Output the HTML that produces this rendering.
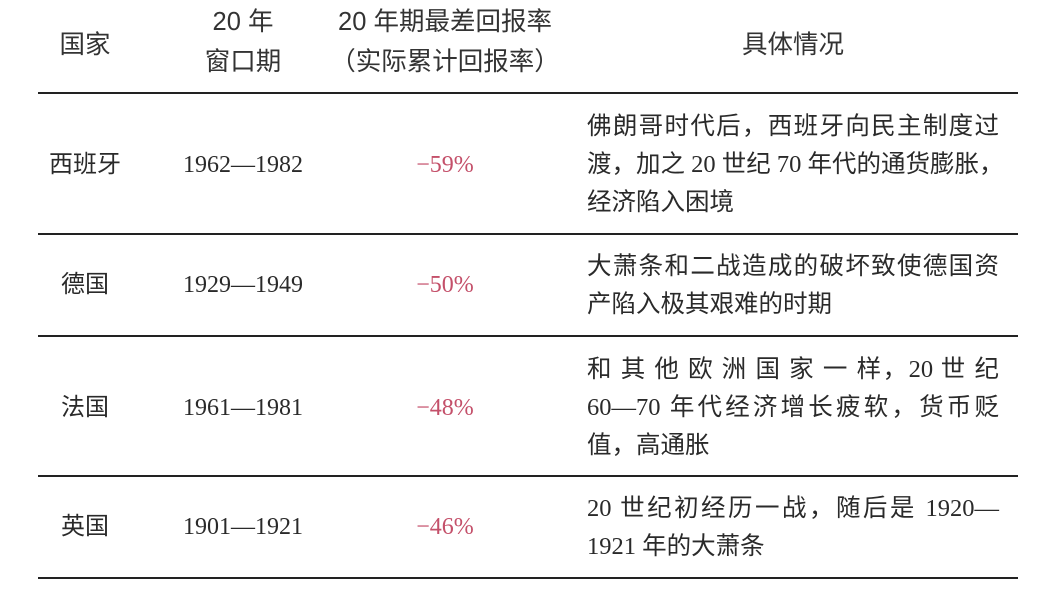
<!DOCTYPE html>
<html><head><meta charset="utf-8"><style>
html,body{margin:0;padding:0;background:#fff;}
#t{position:relative;width:1043px;height:591px;overflow:hidden;color:#2a2a2a;}
.h{position:absolute;font-family:"Liberation Sans","Noto Sans CJK SC",sans-serif;font-size:25.5px;text-align:center;line-height:40px;color:#333;white-space:nowrap;}
.c{position:absolute;font-family:"Liberation Serif","Noto Sans CJK SC",sans-serif;font-size:24px;line-height:38px;white-space:nowrap;}
.ctr{text-align:center;}
.red{color:#c4506a;}
.rule{position:absolute;left:38px;width:980px;height:2px;background:#222;}
.d{position:absolute;left:587px;width:412px;font-family:"Liberation Serif","Noto Sans CJK SC",sans-serif;font-size:24.5px;line-height:38px;white-space:nowrap;}
.j{text-align:justify;text-align-last:justify;}
</style></head><body>
<div id="t">
<div class="h" style="left:35px;width:100px;top:25px">国家</div>
<div class="h" style="left:170px;width:146px;top:2px">20 年<br>窗口期</div>
<div class="h" style="left:305px;width:280px;top:2px">20 年期最差回报率<br>（实际累计回报率）</div>
<div class="h" style="left:700px;width:186px;top:25px">具体情况</div>

<div class="rule" style="top:92px"></div>
<div class="rule" style="top:233px"></div>
<div class="rule" style="top:335px"></div>
<div class="rule" style="top:475px"></div>
<div class="rule" style="top:577px"></div>

<div class="c ctr" style="left:35px;width:100px;top:146px">西班牙</div>
<div class="c ctr" style="left:163px;width:160px;top:146px">1962—1982</div>
<div class="c ctr red" style="left:385px;width:120px;top:146px">−59%</div>
<div class="d" style="top:108px"><div class="j">佛朗哥时代后，西班牙向民主制度过</div><div class="j">渡，加之 20 世纪 70 年代的通货膨胀，</div><div>经济陷入困境</div></div>

<div class="c ctr" style="left:35px;width:100px;top:266px">德国</div>
<div class="c ctr" style="left:163px;width:160px;top:266px">1929—1949</div>
<div class="c ctr red" style="left:385px;width:120px;top:266px">−50%</div>
<div class="d" style="top:248px"><div class="j">大萧条和二战造成的破坏致使德国资</div><div>产陷入极其艰难的时期</div></div>

<div class="c ctr" style="left:35px;width:100px;top:389px">法国</div>
<div class="c ctr" style="left:163px;width:160px;top:389px">1961—1981</div>
<div class="c ctr red" style="left:385px;width:120px;top:389px">−48%</div>
<div class="d" style="top:351px"><div class="j">和 其 他 欧 洲 国 家 一 样，20 世 纪</div><div class="j">60—70 年代经济增长疲软，货币贬</div><div>值，高通胀</div></div>

<div class="c ctr" style="left:35px;width:100px;top:508px">英国</div>
<div class="c ctr" style="left:163px;width:160px;top:508px">1901—1921</div>
<div class="c ctr red" style="left:385px;width:120px;top:508px">−46%</div>
<div class="d" style="top:490px"><div class="j">20 世纪初经历一战，随后是 1920—</div><div>1921 年的大萧条</div></div>
</div>
</body></html>
